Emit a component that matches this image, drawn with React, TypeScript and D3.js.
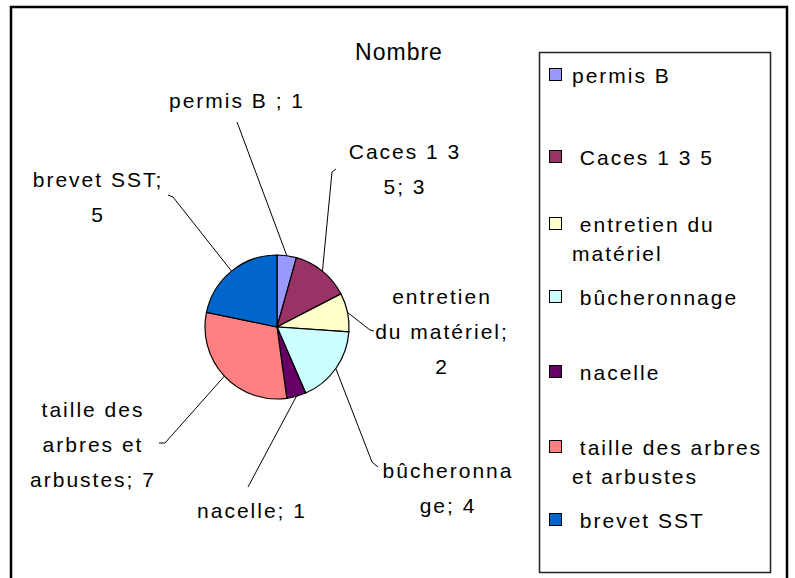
import React, { useEffect, useRef } from "react";
import * as d3 from "d3";

// Chart data
const categories = [
  "permis B",
  "Caces 1 3 5",
  "entretien du matériel",
  "bûcheronnage",
  "nacelle",
  "taille des arbres et arbustes",
  "brevet SST",
];
const values = [1, 3, 2, 4, 1, 7, 5];
const colors = ["#9999FF", "#993366", "#FFFFCC", "#CCFFFF", "#660066", "#FF8080", "#0066CC"];
const title = "Nombre";

// Data label text (wrapped as in the original)
const labelLines = [
  ["permis B ; 1"],
  ["Caces 1 3", "5; 3"],
  ["entretien", "du matériel;", "2"],
  ["bûcheronna", "ge; 4"],
  ["nacelle; 1"],
  ["taille des", "arbres et", "arbustes; 7"],
  ["brevet SST;", "5"],
];

// Legend text (wrapped as in the original)
const legendLines = [
  ["permis B"],
  [" Caces 1 3 5"],
  [" entretien du", "matériel"],
  [" bûcheronnage"],
  [" nacelle"],
  [" taille des arbres", "et arbustes"],
  [" brevet SST"],
];

// Layout: label anchors (centre x, first baseline) and leader line bends
const labelPos = [
  { x: 237, y: 108, leader: [[237, 122]] },
  { x: 405, y: 159, leader: [[332, 172], [336, 169]] },
  { x: 442, y: 304, leader: [[370, 330], [374, 331]] },
  { x: 448, y: 478, leader: [[372, 462], [378, 467]] },
  { x: 252, y: 518, leader: [[248, 487]] },
  { x: 93, y: 417, leader: [[165, 443], [159, 443]] },
  { x: 98, y: 187, leader: [[173, 197], [168, 195]] },
];
const legendY = [83, 165, 232, 305, 380, 455, 528];

const App = () => {
  const svgRef = useRef<SVGSVGElement>(null);

  useEffect(() => {
    const width = 795;
    const height = 578;
    const cx = 277;
    const cy = 327;
    const radius = 72;
    const font = "'Liberation Sans', Arial, sans-serif";

    const svg = d3.select(svgRef.current);
    svg.selectAll("*").remove();
    svg.attr("width", width).attr("height", height);

    svg.append("rect").attr("width", width).attr("height", height).attr("fill", "#fff");

    // Outer frame
    svg.append("rect")
      .attr("x", 11)
      .attr("y", 7)
      .attr("width", 776)
      .attr("height", 600)
      .attr("fill", "none")
      .attr("stroke", "#000")
      .attr("stroke-width", 2.5);

    // Title
    svg.append("text")
      .attr("x", 399)
      .attr("y", 60)
      .attr("text-anchor", "middle")
      .style("font-family", font)
      .style("font-size", "23px")
      .style("letter-spacing", "1px")
      .text(title);

    // Pie
    const pie = d3.pie<number>().sort(null).value(d => d);
    const arcs = pie(values);
    const arc = d3.arc<d3.PieArcDatum<number>>().innerRadius(0).outerRadius(radius);

    const g = svg.append("g").attr("transform", `translate(${cx},${cy})`);
    g.selectAll("path")
      .data(arcs)
      .join("path")
      .attr("d", arc)
      .attr("fill", (d, i) => colors[i])
      .attr("stroke", "#000")
      .attr("stroke-width", 1.2);

    // Leader lines
    const line = d3.line();
    arcs.forEach((a, i) => {
      const mid = (a.startAngle + a.endAngle) / 2;
      const start: [number, number] = [cx + radius * Math.sin(mid), cy - radius * Math.cos(mid)];
      const pts = [start, ...(labelPos[i].leader as [number, number][])];
      svg.append("path")
        .attr("d", line(pts))
        .attr("fill", "none")
        .attr("stroke", "#000")
        .attr("stroke-width", 1);
    });

    // Data labels
    labelLines.forEach((lines, i) => {
      const t = svg.append("text")
        .attr("text-anchor", "middle")
        .style("font-family", font)
        .style("font-size", "21px")
        .style("letter-spacing", "2px");
      lines.forEach((ln, j) => {
        t.append("tspan")
          .attr("x", labelPos[i].x)
          .attr("y", labelPos[i].y + j * 35)
          .text(ln);
      });
    });

    // Legend
    svg.append("rect")
      .attr("x", 539.5)
      .attr("y", 52.5)
      .attr("width", 231)
      .attr("height", 520)
      .attr("fill", "#fff")
      .attr("stroke", "#222")
      .attr("stroke-width", 1.5);

    legendLines.forEach((lines, i) => {
      svg.append("rect")
        .attr("x", 549.5)
        .attr("y", legendY[i] - 14.5)
        .attr("width", 12)
        .attr("height", 12)
        .attr("fill", colors[i])
        .attr("stroke", "#000")
        .attr("stroke-width", 1);
      const t = svg.append("text")
        .attr("xml:space", "preserve")
        .style("white-space", "pre")
        .style("font-family", font)
        .style("font-size", "21px")
        .style("letter-spacing", "2px");
      lines.forEach((ln, j) => {
        t.append("tspan")
          .attr("x", 572)
          .attr("y", legendY[i] + j * 29)
          .text(ln);
      });
    });
  }, []);

  return (
    <div style={{ position: "absolute", left: 0, top: 0 }}>
      <svg ref={svgRef} aria-label={categories.join(", ")} style={{ display: "block" }}></svg>
    </div>
  );
};

export default App;
